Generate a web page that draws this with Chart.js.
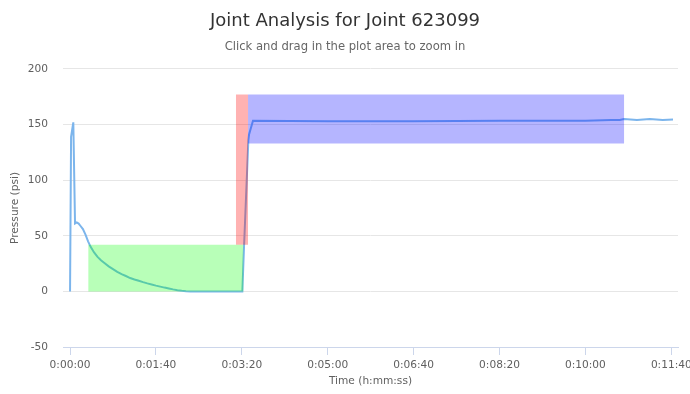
<!DOCTYPE html>
<html>
<head>
<meta charset="utf-8">
<script src="https://cdn.jsdelivr.net/npm/chart.js@4/dist/chart.umd.min.js"></script>
<style>
  html, body { margin: 0; padding: 0; background: #fff; }
  #wrap { width: 690px; height: 394px; }
</style>
</head>
<body>
<div id="wrap"><canvas id="joint"></canvas></div>
<script>
/* Joint pressure trace with the three check windows drawn over it */

// pressure trace: seconds since start, psi
var timeSec = [0, 1.2, 3.8, 5.8, 7.8, 10, 12, 15, 18, 21, 24, 28, 32, 36, 40, 45, 50, 55, 60, 65, 70, 75, 80, 85, 90, 95, 100, 105, 110, 115, 120, 125, 130, 135, 140,
  200.6, 202.6, 207.6, 208.4, 213, 300, 400, 500, 600, 630, 640, 645, 660, 675, 690, 702];
var pressure = [0, 139, 152, 61, 62, 61, 59, 56, 51, 45, 40, 35, 31, 28, 25.5, 22.5, 20, 17.5, 15.5, 13.8, 12, 10.7, 9.5, 8.3, 7.2, 6.2, 5.2, 4.3, 3.4, 2.6, 1.8, 1.1, 0.5, 0.1, 0,
  0, 41, 136, 141, 153.5, 153, 153, 153.5, 153.5, 154, 154, 155, 154, 155, 154, 154.5];

// check windows (seconds / psi)
var boxNames = ['Decay', 'Ramp', 'Hold'];
var boxStart = [21.3, 193.2, 207.2];
var boxEnd = [201.7, 207.2, 645];
var boxLow = [0, 42, 133];
var boxHigh = [42, 177, 177];
var boxColors = ['rgba(0, 255, 0, 0.28)', 'rgba(255, 0, 0, 0.3)', 'rgba(0, 0, 255, 0.29)'];

// axes
var xTicks = [0, 100, 200, 300, 400, 500, 600, 700];
var xMin = -8.2;
var xMax = 707.8;
var yMin = -50;
var yMax = 200;
var yStep = 50;

var FONT = '"DejaVu Sans", "Lucida Grande", Verdana, sans-serif';

function hms(s) {
  var h = Math.floor(s / 3600);
  var m = Math.floor((s % 3600) / 60);
  var sec = Math.round(s % 60);
  return h + ':' + (m < 10 ? '0' : '') + m + ':' + (sec < 10 ? '0' : '') + sec;
}

var datasets = [];

boxNames.forEach(function (name, i) {
  datasets.push({
    label: name,
    data: [
      { x: boxStart[i], y: boxLow[i] },
      { x: boxStart[i], y: boxHigh[i] },
      { x: boxEnd[i], y: boxHigh[i] },
      { x: boxEnd[i], y: boxLow[i] },
      { x: boxStart[i], y: boxLow[i] }
    ],
    backgroundColor: boxColors[i],
    borderColor: 'rgba(0,0,0,0)',
    borderWidth: 0,
    pointRadius: 0,
    fill: 'shape',
    tension: 0
  });
});

datasets.push({
  label: 'Pressure',
  data: timeSec.map(function (t, i) { return { x: t, y: pressure[i] }; }),
  borderColor: '#7cb5ec',
  borderWidth: 2,
  pointRadius: 0,
  fill: false,
  tension: 0
});

new Chart(document.getElementById('joint'), {
  type: 'line',
  data: { datasets: datasets },
  options: {
    responsive: true,
    maintainAspectRatio: false,
    animation: false,
    events: [],
    layout: { padding: 0 },
    plugins: {
      legend: { display: false },
      tooltip: { enabled: false },
      title: {
        display: true,
        text: 'Joint Analysis for Joint 623099',
        color: '#333333',
        font: { family: FONT, size: 18, weight: 'normal' },
        padding: { top: 11, bottom: 7.4 }
      },
      subtitle: {
        display: true,
        text: 'Click and drag in the plot area to zoom in',
        color: '#666666',
        font: { family: FONT, size: 11.6, weight: 'normal' },
        padding: { top: 0, bottom: 15 }
      }
    },
    scales: {
      x: {
        type: 'linear',
        min: xMin,
        max: xMax,
        afterBuildTicks: function (scale) {
          scale.ticks = xTicks.map(function (v) { return { value: v }; });
        },
        afterFit: function (scale) {
          scale.height = 47;
          scale.paddingLeft = 0;
          scale.paddingRight = 12;
        },
        grid: {
          drawOnChartArea: false,
          drawTicks: true,
          tickLength: 8,
          color: '#ccd6eb'
        },
        border: { display: true, color: '#ccd6eb', width: 1 },
        ticks: {
          autoSkip: false,
          maxRotation: 0,
          padding: 4,
          color: '#606060',
          font: { family: FONT, size: 10.6 },
          callback: function (v) { return hms(v); }
        },
        title: {
          display: true,
          text: 'Time (h:mm:ss)',
          color: '#606060',
          font: { family: FONT, size: 10.6 },
          padding: { top: 0, bottom: 6.6 }
        }
      },
      y: {
        min: yMin,
        max: yMax,
        afterFit: function (scale) {
          scale.width = 63;
          scale.paddingTop = 0;
          scale.paddingBottom = 0;
        },
        grid: { color: '#e6e6e6', drawTicks: false },
        border: { display: false },
        ticks: {
          stepSize: yStep,
          padding: 15,
          color: '#606060',
          font: { family: FONT, size: 10.6 }
        },
        title: {
          display: true,
          text: 'Pressure (psi)',
          color: '#606060',
          font: { family: FONT, size: 10.6 },
          padding: { top: 8.6, bottom: 0 }
        }
      }
    }
  }
});
</script>
</body>
</html>
